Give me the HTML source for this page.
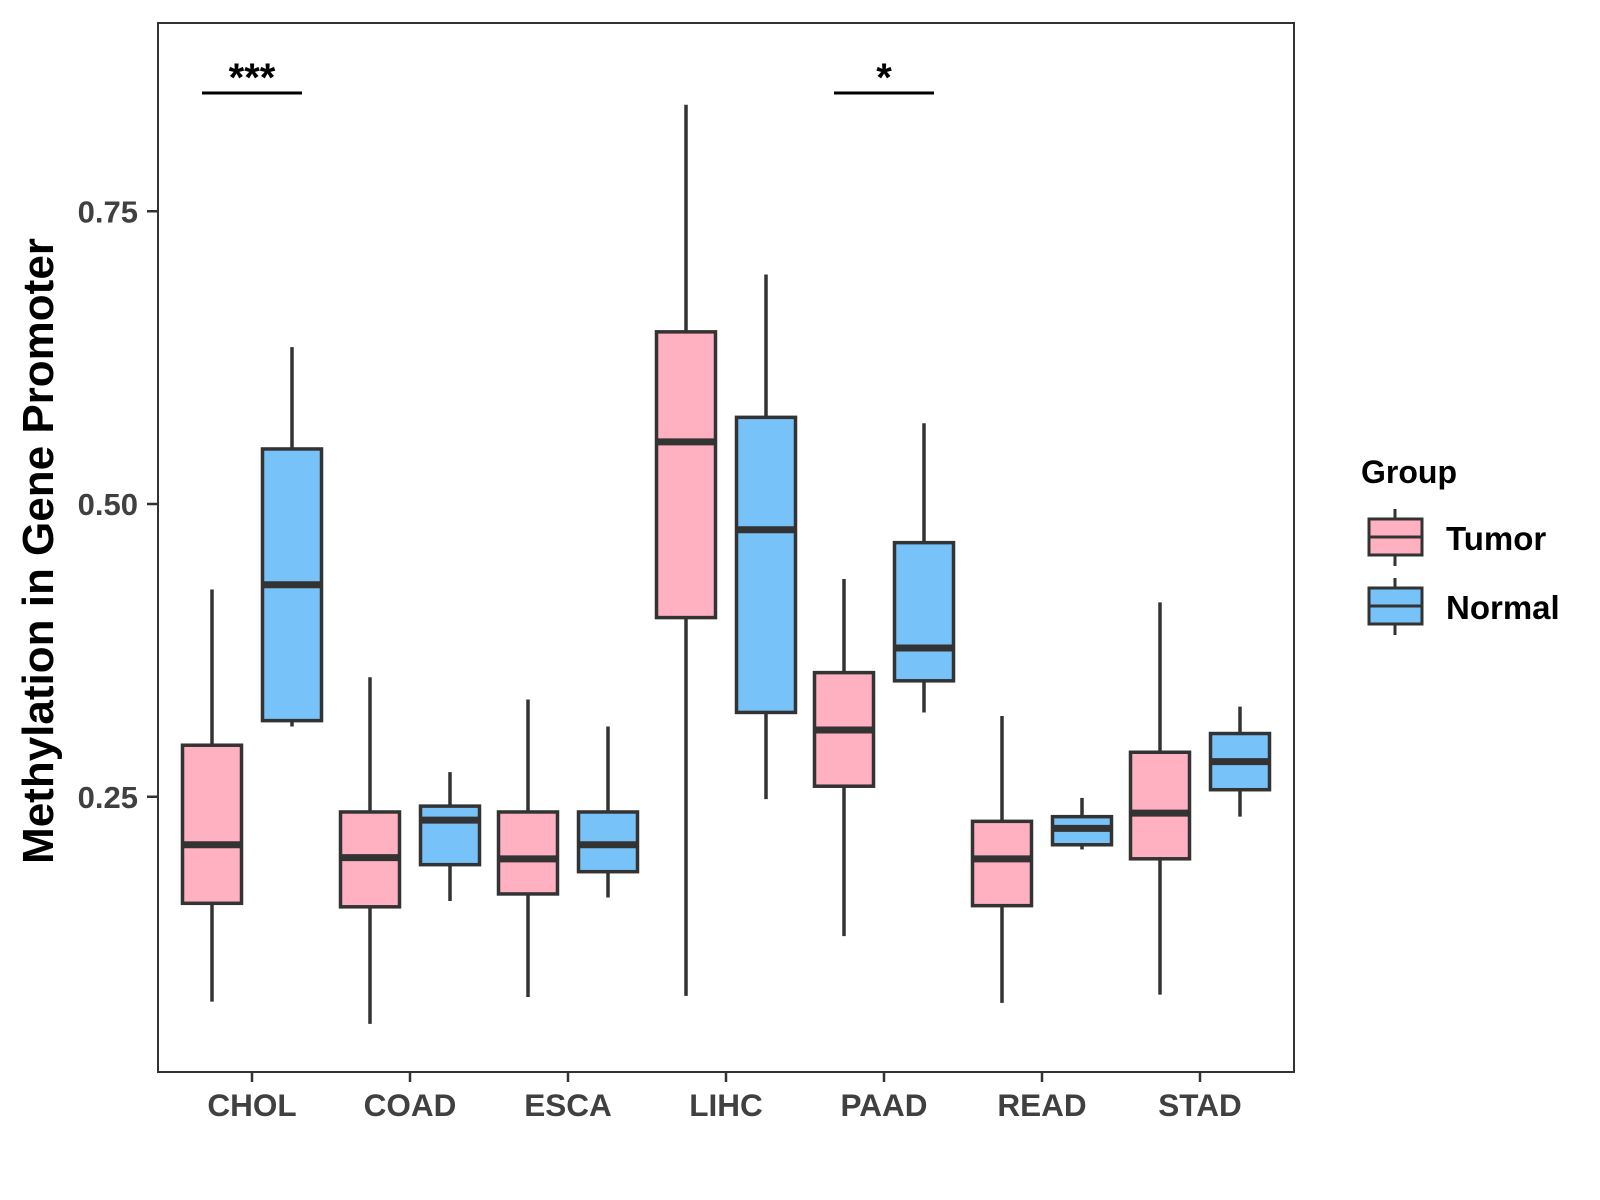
<!DOCTYPE html>
<html><head><meta charset="utf-8"><style>
html,body{margin:0;padding:0;background:#fff;}
svg{display:block;font-family:"Liberation Sans",Arial,sans-serif;}
</style></head><body>
<svg id="chart" width="1600" height="1200" viewBox="0 0 1600 1200">
<rect x="0" y="0" width="1600" height="1200" fill="#fff"/>
<g id="plot"></g>
<rect x="158" y="23" width="1136" height="1049" fill="none" stroke="#333" stroke-width="2"/>
<text x="0" y="0" transform="translate(53,551) rotate(-90)" text-anchor="middle" font-size="44" font-weight="bold" fill="#000">Methylation in Gene Promoter</text>
<g>
<text x="1361" y="483" font-size="32" font-weight="bold" fill="#000">Group</text>
<g>
<line x1="1395" y1="509" x2="1395" y2="566" stroke="#333" stroke-width="3"/>
<rect x="1369" y="519" width="53" height="36" fill="#FFB0C1" stroke="#333" stroke-width="3"/>
<line x1="1369" y1="537" x2="1422" y2="537" stroke="#333" stroke-width="3"/>
<text x="1446" y="550" font-size="33" font-weight="bold" fill="#000">Tumor</text>
</g>
<g>
<line x1="1395" y1="578" x2="1395" y2="635" stroke="#333" stroke-width="3"/>
<rect x="1369" y="588" width="53" height="36" fill="#77C2F8" stroke="#333" stroke-width="3"/>
<line x1="1369" y1="606" x2="1422" y2="606" stroke="#333" stroke-width="3"/>
<text x="1446" y="619" font-size="33" font-weight="bold" fill="#000">Normal</text>
</g>
</g>
</svg>
<script>
const categories = ["CHOL","COAD","ESCA","LIHC","PAAD","READ","STAD"];
// [lower whisker, q1, median, q3, upper whisker]
const tumorStats = [
  [0.075,0.159,0.209,0.294,0.427],
  [0.056,0.156,0.198,0.237,0.352],
  [0.079,0.167,0.197,0.237,0.333],
  [0.080,0.403,0.553,0.647,0.841],
  [0.131,0.259,0.307,0.356,0.436],
  [0.074,0.157,0.197,0.229,0.319],
  [0.081,0.197,0.236,0.288,0.416]
];
const normalStats = [
  [0.310,0.315,0.431,0.547,0.634],
  [0.161,0.192,0.230,0.242,0.271],
  [0.164,0.186,0.209,0.237,0.310],
  [0.248,0.322,0.478,0.574,0.696],
  [0.322,0.349,0.377,0.467,0.569],
  [0.205,0.209,0.223,0.233,0.249],
  [0.233,0.256,0.280,0.304,0.327]
];
const yTicks = [0.25,0.50,0.75];
const yTickLabels = ["0.25","0.50","0.75"];
const sigCategories = ["CHOL","PAAD"];
const sigLabels = ["***","*"];
const sigLevel = 0.851;

const NS="http://www.w3.org/2000/svg";
const plot=document.getElementById('plot');
const svg=document.getElementById('chart');
function y(v){return 504-(v-0.5)*1171;}
function x(i){return 252+i*158;}
function mk(tag,attrs,parent){const e=document.createElementNS(NS,tag);for(const k in attrs)e.setAttribute(k,attrs[k]);(parent||plot).appendChild(e);return e;}

function drawBox(s,cx,fill,name){
  const g=mk('g',{});
  
  
  const w=59;
  mk('line',{x1:cx,x2:cx,y1:y(s[4]),y2:y(s[0]),stroke:'#333','stroke-width':3.5},g);
  mk('rect',{x:cx-w/2,y:y(s[3]),width:w,height:y(s[1])-y(s[3]),fill:fill,stroke:'#333','stroke-width':3.5},g);
  mk('line',{x1:cx-w/2,x2:cx+w/2,y1:y(s[2]),y2:y(s[2]),stroke:'#333','stroke-width':7},g);
}
categories.forEach((c,i)=>{
  drawBox(tumorStats[i],x(i)-40,'#FFB0C1','box-tumor-'+c.toLowerCase());
  drawBox(normalStats[i],x(i)+40,'#77C2F8','box-normal-'+c.toLowerCase());
  mk('line',{x1:x(i),x2:x(i),y1:1072,y2:1082,stroke:'#333','stroke-width':2.5},svg);
  const t=mk('text',{x:x(i),y:1116,'text-anchor':'middle','font-size':31.5,'font-weight':'bold',fill:'#404040'},svg);
  t.textContent=c;
  
  
});
yTicks.forEach((v,i)=>{
  mk('line',{x1:147,x2:158,y1:y(v),y2:y(v),stroke:'#333','stroke-width':2.5},svg);
  const t=mk('text',{x:138,y:y(v)+11,'text-anchor':'end','font-size':31,'font-weight':'bold',fill:'#404040'},svg);
  t.textContent=yTickLabels[i];
  
  
});
sigCategories.forEach((c,k)=>{
  const i=categories.indexOf(c);
  const g=mk('g',{});
  
  
  mk('line',{x1:x(i)-50,x2:x(i)+50,y1:y(sigLevel),y2:y(sigLevel),stroke:'#000','stroke-width':3},g);
  const t=mk('text',{x:x(i),y:y(sigLevel)-2,'text-anchor':'middle','font-size':40,'font-weight':'bold',fill:'#000'},g);
  t.textContent=sigLabels[k];
});
</script>
</body></html>
